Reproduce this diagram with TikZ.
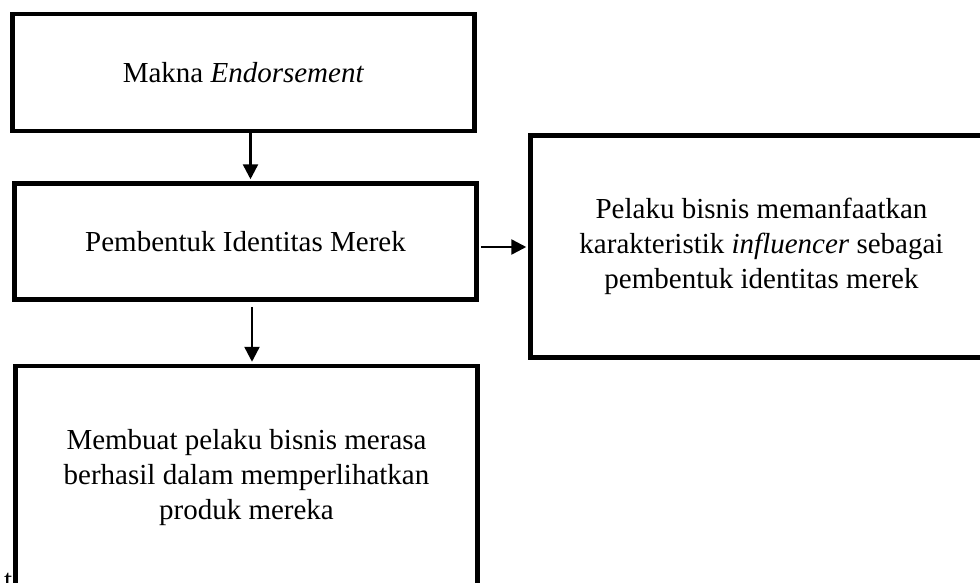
\documentclass[tikz,border=0pt]{standalone}
\usepackage{fontspec}
\setmainfont{Liberation Serif}
\usetikzlibrary{arrows.meta}
\begin{document}
\begin{tikzpicture}[x=1pt,y=-1pt,
  box/.style={draw=black, line width=4.5pt, fill=white, inner sep=0pt, align=center,
    font=\fontsize{29}{35}\selectfont},
  arr/.style={line width=2.5pt, -{Triangle[length=15pt,width=15pt]}},
  txt/.style={inner sep=0pt, font=\fontsize{29}{35}\selectfont}]
\useasboundingbox (0,0) rectangle (980,582);
\clip (0,0) rectangle (980,582);
\node[box, minimum width=462pt, minimum height=117pt] (b1) at (243.5,72.5) {Makna \textit{Endorsement}};
\node[box, minimum width=462pt, minimum height=116pt] (b2) at (245.5,241.5) {Pembentuk Identitas Merek};
\node[box, minimum width=462pt, minimum height=222pt] (b3) at (761.5,246.5) {Pelaku bisnis memanfaatkan\\karakteristik \textit{influencer} sebagai\\pembentuk identitas merek};
\node[box, minimum width=462pt, minimum height=224pt] (b4) at (246.5,478) {Membuat pelaku bisnis merasa\\berhasil dalam memperlihatkan\\produk mereka};
\node[txt, anchor=base west] (t) at (4,589) {t};
\draw[arr] ([xshift=7pt]b1.south) -- ([xshift=7pt,yshift=2pt]b1.south |- b2.north);
\draw[arr] ([xshift=6.5pt,yshift=-5pt]b2.south) -- ([xshift=6.5pt,yshift=2pt]b2.south |- b4.north);
\coordinate (r) at ([yshift=-5.5pt]b2.east);
\draw[arr] ([xshift=2pt]r) -- ([xshift=-2pt]r -| b3.west);
\end{tikzpicture}
\end{document}
